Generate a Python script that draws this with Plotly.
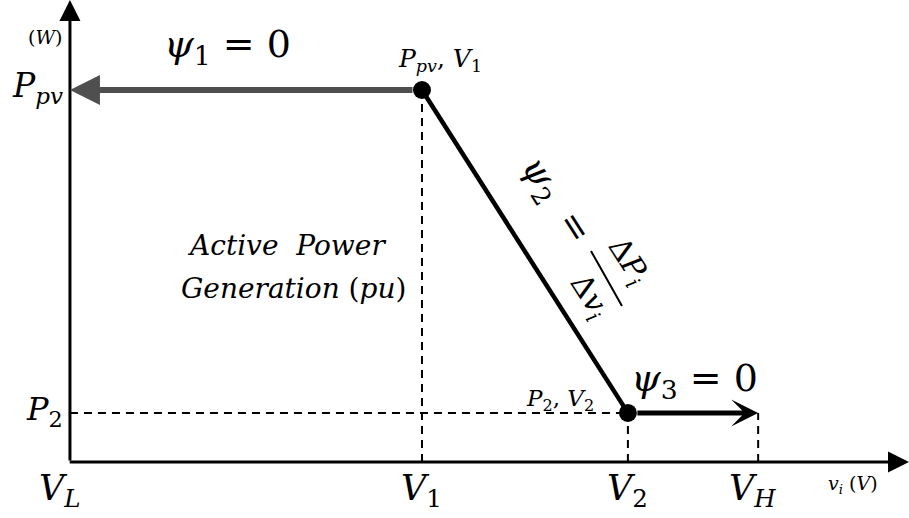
import plotly.graph_objects as go

# Voltage break points along the v_i axis (pu)
v_L = 0.0
v_1 = 0.400
v_2 = 0.634
v_H = 0.782
# Active power levels (pu)
p_pv = 1.0
p_2 = 0.132

# Droop segment between the two operating points
curve_v = [v_1, v_2]
curve_p = [p_pv, p_2]

W, H = 909, 518
X_RANGE = [-0.0795, 0.9534]
Y_RANGE = [-0.1505, 1.2419]
FONT = "DejaVu Serif"
INK = "#000000"
GREY = "#4f4f4f"


def px(x):
    """pixel column -> paper coordinate"""
    return x / W


def py(y):
    """pixel row -> paper coordinate"""
    return 1 - y / H


fig = go.Figure()

dash = "8px,6px"
# guide lines down to the axes
for xs, ys in [([v_1, v_1], [0, p_pv]),
               ([v_L, v_2], [p_2, p_2]),
               ([v_2, v_2], [0, p_2]),
               ([v_H, v_H], [0, p_2])]:
    fig.add_trace(go.Scatter(x=xs, y=ys, mode="lines",
                             line=dict(color=INK, width=2, dash=dash),
                             hoverinfo="skip", showlegend=False))

# droop segment
fig.add_trace(go.Scatter(x=curve_v, y=curve_p, mode="lines",
                         line=dict(color=INK, width=4.5),
                         hoverinfo="skip", showlegend=False))

ann = []

# axes with arrow heads
ann.append(dict(x=v_L, y=Y_RANGE[1], ax=v_L, ay=0, xref="x", yref="y",
                axref="x", ayref="y", showarrow=True, arrowhead=2,
                arrowsize=1.4, arrowwidth=3, arrowcolor=INK, text=""))
ann.append(dict(x=X_RANGE[1], y=0, ax=v_L - 0.002, ay=0, xref="x", yref="y",
                axref="x", ayref="y", showarrow=True, arrowhead=2,
                arrowsize=1.4, arrowwidth=3, arrowcolor=INK, text=""))

# psi_1 = 0 region (grey arrow to the left)
ann.append(dict(x=v_L, y=p_pv, ax=v_1, ay=p_pv, xref="x", yref="y",
                axref="x", ayref="y", showarrow=True, arrowhead=2,
                arrowsize=1.0, arrowwidth=6, arrowcolor=GREY,
                startstandoff=8, text=""))
# psi_3 = 0 region (black arrow to the right)
ann.append(dict(x=v_H, y=p_2, ax=v_2, ay=p_2, xref="x", yref="y",
                axref="x", ayref="y", showarrow=True, arrowhead=3,
                arrowsize=0.9, arrowwidth=5, arrowcolor=INK,
                startstandoff=8, text=""))

fig.add_trace(go.Scatter(x=curve_v, y=curve_p, mode="markers",
                         marker=dict(color=INK, size=18),
                         hoverinfo="skip", showlegend=False))


def label(text, x, y, size, xref="paper", yref="paper", angle=0, **kw):
    d = dict(text=text, x=x, y=y, xref=xref, yref=yref, showarrow=False,
             textangle=angle, xanchor="center", yanchor="middle",
             font=dict(family=FONT, size=size, color=INK))
    d.update(kw)
    ann.append(d)


# axis tick labels
label("<i>V</i><sub><i>L</i></sub>", v_L, py(490), 35, xref="x", xshift=-10)
label("<i>V</i><sub>1</sub>", v_1, py(490), 35, xref="x")
label("<i>V</i><sub>2</sub>", v_2, py(490), 35, xref="x")
label("<i>V</i><sub><i>H</i></sub>", v_H, py(490), 35, xref="x", xshift=-6)
label("<i>P</i><sub><i>pv</i></sub>", px(37), p_pv, 33, yref="y", yshift=2)
label("<i>P</i><sub>2</sub>", px(44), p_2, 32, yref="y", yshift=2)

# axis units
label("(<i>W</i>)", px(45), py(37), 19)
label("<i>v</i><sub><i>i</i></sub> (<i>V</i>)", px(853), py(484), 19)

# region / point annotations
label("<i>ψ</i><sub>1</sub> = 0", px(228), py(46), 38)
label("<i>ψ</i><sub>3</sub> = 0", px(694), py(380), 38)
label("<i>P</i><sub><i>pv</i></sub>, <i>V</i><sub>1</sub>", px(440), py(60), 25)
label("<i>P</i><sub>2</sub>, <i>V</i><sub>2</sub>", px(560), py(400), 23)
label("<i>Active  Power</i>", px(286), py(245), 28)
label("<i>Generation</i> (<i>pu</i>)", px(293), py(288), 28)

# slope of the droop segment, written along it
ANG = 57.3
label("<i>ψ</i><sub>2</sub>", px(540), py(180), 36, angle=ANG)
label("=", px(576), py(226), 36, angle=ANG)
label("Δ<i>P</i><sub><i>i</i></sub>", px(628), py(261), 30, angle=ANG)
label("Δ<i>v</i><sub><i>i</i></sub>", px(589), py(296), 30, angle=ANG)

shapes = [dict(type="line", xref="paper", yref="paper",
               x0=px(591), y0=py(251), x1=px(622), y1=py(306),
               line=dict(color=INK, width=2))]

fig.update_layout(
    width=W, height=H, autosize=False,
    margin=dict(l=0, r=0, t=0, b=0),
    paper_bgcolor="white", plot_bgcolor="white",
    xaxis=dict(range=X_RANGE, visible=False, fixedrange=True),
    yaxis=dict(range=Y_RANGE, visible=False, fixedrange=True),
    annotations=ann, shapes=shapes, showlegend=False,
)

fig.write_html("out.html", config={"displayModeBar": False})
